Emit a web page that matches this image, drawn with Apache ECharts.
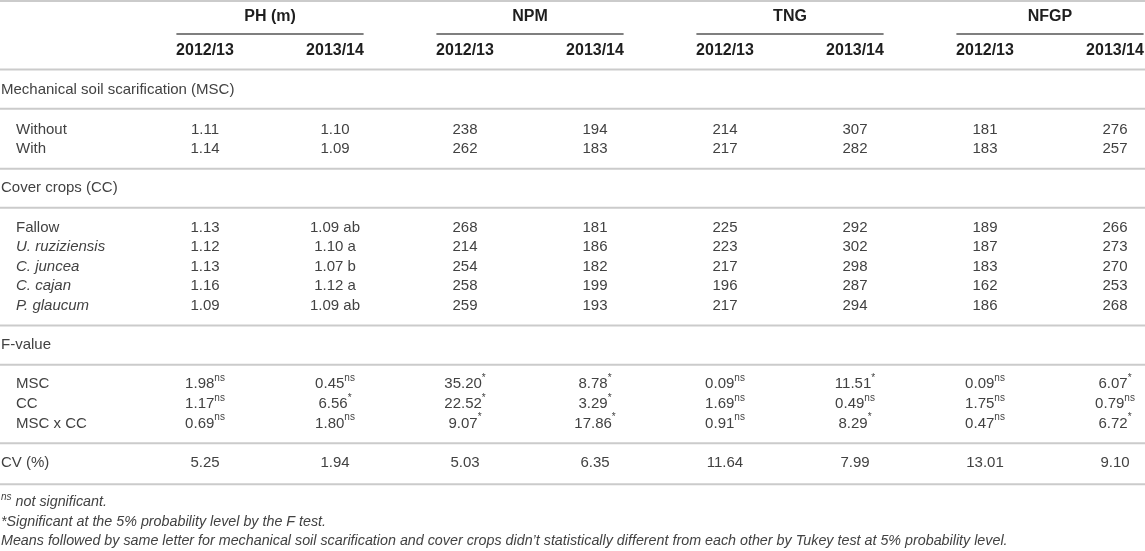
<!DOCTYPE html>
<html>
<head>
<meta charset="utf-8">
<style>
html, body { margin: 0; padding: 0; background: #fff; }
#main { width: 1145px; height: 551px; }
</style>
<script src="https://cdn.jsdelivr.net/npm/echarts@6/dist/echarts.min.js"></script>
</head>
<body>
<div id="main"></div>
<script>
// ---- table content ----
var groups = ['PH (m)', 'NPM', 'TNG', 'NFGP'];
var seasons = ['2012/13', '2013/14'];
var decimals = [2, 2, 0, 0, 0, 0, 0, 0];

var mscTitle = 'Mechanical soil scarification (MSC)';
var mscLevels = ['Without', 'With'];
var mscValues = [
    [1.11, 1.10, 238, 194, 214, 307, 181, 276],
    [1.14, 1.09, 262, 183, 217, 282, 183, 257]
];

var ccTitle = 'Cover crops (CC)';
var ccLevels = ['Fallow', 'U. ruziziensis', 'C. juncea', 'C. cajan', 'P. glaucum'];
var ccItalic = [false, true, true, true, true];
var ccValues = [
    [1.13, 1.09, 268, 181, 225, 292, 189, 266],
    [1.12, 1.10, 214, 186, 223, 302, 187, 273],
    [1.13, 1.07, 254, 182, 217, 298, 183, 270],
    [1.16, 1.12, 258, 199, 196, 287, 162, 253],
    [1.09, 1.09, 259, 193, 217, 294, 186, 268]
];
// Tukey letters, PH 2013/14 column
var ccLetters = ['ab', 'a', 'b', 'a', 'ab'];

var fTitle = 'F-value';
var fSources = ['MSC', 'CC', 'MSC x CC'];
var fValues = [
    [1.98, 0.45, 35.20, 8.78, 0.09, 11.51, 0.09, 6.07],
    [1.17, 6.56, 22.52, 3.29, 1.69, 0.49, 1.75, 0.79],
    [0.69, 1.80, 9.07, 17.86, 0.91, 8.29, 0.47, 6.72]
];
var fSig = [
    ['ns', 'ns', '*', '*', 'ns', '*', 'ns', '*'],
    ['ns', '*', '*', '*', 'ns', 'ns', 'ns', 'ns'],
    ['ns', 'ns', '*', '*', 'ns', '*', 'ns', '*']
];

var cvLabel = 'CV (%)';
var cvValues = [5.25, 1.94, 5.03, 6.35, 11.64, 7.99, 13.01, 9.10];

var notes = [
    '{s|ns}{t| not significant.}',
    '{t|*Significant at the 5% probability level by the F test.}',
    '{t|Means followed by same letter for mechanical soil scarification and cover crops didn\u2019t statistically different from each other by Tukey test at 5% probability level.}'
];

// ---- layout (x = column index, y = row slot) ----
var X0 = -205 / 130, X1 = (1145 - 205) / 130;
var Y0 = -2.6, Y1 = 25.5;
var FONT = '"Liberation Sans", Arial, Helvetica, sans-serif';

var cells = [];
var rules = [];
function cell(x, slot, text, kind, italic) {
    cells.push({ value: [x, slot], text: text, kind: kind, italic: !!italic });
}
function rule(slot, x0, x1, kind) {
    rules.push({ value: [x0, slot, x1], kind: kind });
}

rule(-2.55, X0, X1, 'line');
groups.forEach(function (g, i) {
    cell(2 * i + 0.5, -1.75, g, 'head');
    rule(-0.87, 2 * i - 0.22, 2 * i + 1.22, 'under');
    seasons.forEach(function (s, j) {
        cell(2 * i + j, 0, s, 'head');
    });
});

var slot = 1;
rule(slot - 0.05, X0, X1, 'line');

// MSC block
slot++;
cell(X0, slot, mscTitle, 'section');
slot++;
rule(slot - 0.05, X0, X1, 'line');
mscLevels.forEach(function (lv, r) {
    slot++;
    cell(X0, slot, lv, 'level');
    mscValues[r].forEach(function (v, c) {
        cell(c, slot, v.toFixed(decimals[c]), 'num');
    });
});
slot++;
rule(slot, X0, X1, 'line');

// Cover crops block
slot++;
cell(X0, slot, ccTitle, 'section');
slot++;
rule(slot, X0, X1, 'line');
ccLevels.forEach(function (lv, r) {
    slot++;
    cell(X0, slot, lv, 'level', ccItalic[r]);
    ccValues[r].forEach(function (v, c) {
        var t = v.toFixed(decimals[c]);
        if (c === 1) t += ' ' + ccLetters[r];
        cell(c, slot, t, 'num');
    });
});
slot++;
rule(slot, X0, X1, 'line');

// F-value block
slot++;
cell(X0, slot, fTitle, 'section');
slot++;
rule(slot, X0, X1, 'line');
fSources.forEach(function (src, r) {
    slot++;
    cell(X0, slot, src, 'level');
    fValues[r].forEach(function (v, c) {
        cell(c, slot, '{v|' + v.toFixed(2) + '}{s|' + fSig[r][c] + '}', 'rich');
    });
});
slot++;
rule(slot, X0, X1, 'line');

// CV row
slot++;
cell(X0, slot, cvLabel, 'section');
cvValues.forEach(function (v, c) {
    cell(c, slot, v.toFixed(2), 'num');
});
slot++;
rule(slot + 0.1, X0, X1, 'line');

// footnotes
notes.forEach(function (n) {
    slot++;
    cell(X0, slot, n, 'note');
});

var TEXT = '#424242';
var HEAD = '#1e1e1e';

function cellStyle(c) {
    var s = { text: c.text, fill: TEXT, fontFamily: FONT, fontSize: 15, verticalAlign: 'middle', align: 'center' };
    if (c.kind === 'head') {
        s.fill = HEAD;
        s.fontWeight = 'bold';
        s.fontSize = 16;
    } else if (c.kind === 'section' || c.kind === 'level') {
        s.align = 'left';
        if (c.italic) s.fontStyle = 'italic';
    } else if (c.kind === 'rich') {
        s.rich = {
            v: { fill: TEXT, fontFamily: FONT, fontSize: 15, lineHeight: 22 },
            s: { fill: TEXT, fontFamily: FONT, fontSize: 10, lineHeight: 12, verticalAlign: 'top' }
        };
    } else if (c.kind === 'note') {
        s.align = 'left';
        s.rich = {
            t: { fill: TEXT, fontFamily: FONT, fontSize: 14.3, fontStyle: 'italic', lineHeight: 20 },
            s: { fill: TEXT, fontFamily: FONT, fontSize: 10, fontStyle: 'italic', lineHeight: 12, verticalAlign: 'top' }
        };
    }
    return s;
}

var myChart = echarts.init(document.getElementById('main'));
var option = {
    animation: false,
    grid: { left: 0, right: 0, top: 0, bottom: 0 },
    xAxis: { type: 'value', min: X0, max: X1, show: false },
    yAxis: { type: 'value', min: Y0, max: Y1, inverse: true, show: false },
    series: [{
        type: 'custom',
        clip: false,
        data: rules,
        encode: { x: [0, 2], y: 1 },
        renderItem: function (params, api) {
            var r = rules[params.dataIndex];
            var a = api.coord([api.value(0), api.value(1)]);
            var b = api.coord([api.value(2), api.value(1)]);
            var under = r.kind === 'under';
            return {
                type: 'line',
                shape: { x1: a[0], y1: a[1], x2: b[0], y2: b[1] },
                style: { stroke: under ? '#555' : '#cbcbcb', lineWidth: under ? 1.5 : 2 }
            };
        }
    }, {
        type: 'custom',
        clip: false,
        data: cells,
        renderItem: function (params, api) {
            var c = cells[params.dataIndex];
            var p = api.coord([api.value(0), api.value(1)]);
            var x = p[0];
            if (c.kind === 'section' || c.kind === 'note') x += 1;
            if (c.kind === 'level') x += 16;
            return { type: 'text', x: x, y: p[1], style: cellStyle(c) };
        }
    }]
};
myChart.setOption(option);

window.onresize = function () {
    myChart.resize();
};
</script>
</body>
</html>
